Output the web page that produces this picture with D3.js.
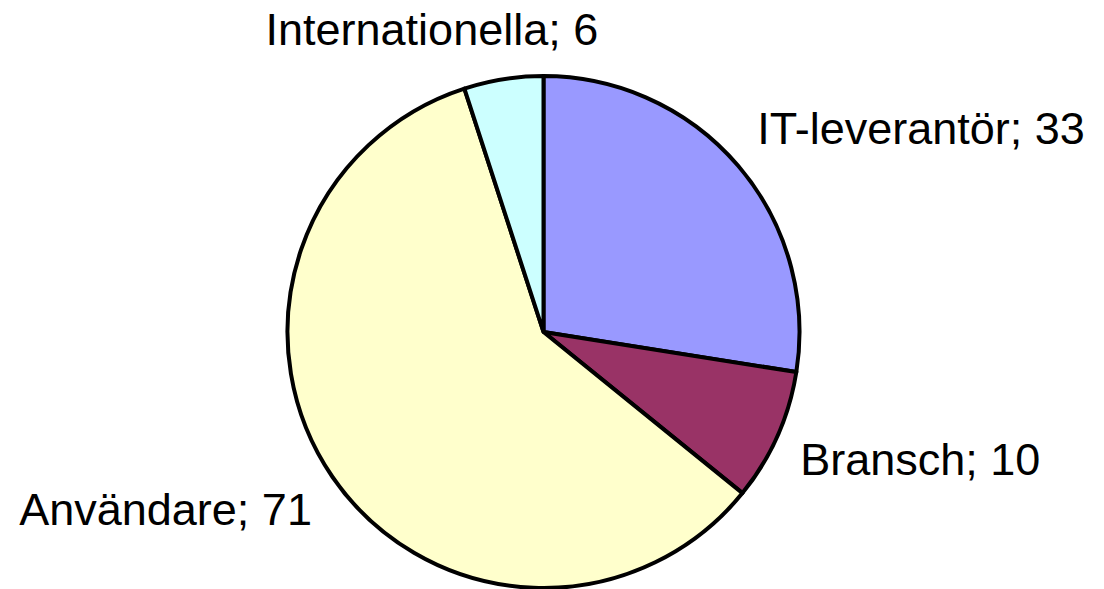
<!DOCTYPE html>
<html><head><meta charset="utf-8">
<script src="https://cdn.jsdelivr.net/npm/d3@7"></script>
<style>html,body{margin:0;padding:0;background:#fff;}svg{display:block;}</style>
</head><body>
<svg id="chart" width="1104" height="589"></svg>
<script>
const categories = ["IT-leverantör", "Bransch", "Användare", "Internationella"];
const values = [33, 10, 71, 6];
const colors = ["#9999FF", "#993366", "#FFFFCC", "#CCFFFF"];

const W = 1104, H = 589;
const cx = 543.5, cy = 332, r = 256;
const fontSize = 45;
const svg = d3.select("#chart");
const g = svg.append("g").attr("transform", `translate(${cx},${cy})`);

const data = categories.map((c, i) => ({ name: c, value: values[i], color: colors[i] }));
const pie = d3.pie().value(d => d.value).sort(null);
const arc = d3.arc().innerRadius(0).outerRadius(r);
const arcs = pie(data);

g.selectAll("path").data(arcs).join("path")
  .attr("d", arc)
  .attr("fill", d => d.data.color)
  .attr("stroke", "#000")
  .attr("stroke-width", 4)
  .attr("stroke-linejoin", "round");

const labelR = r + 25;
arcs.forEach(a => {
  const mid = (a.startAngle + a.endAngle) / 2;
  const sx = Math.sin(mid), cyv = Math.cos(mid);
  const ax = labelR * sx, ay = -labelR * cyv;
  const t = g.append("text")
    .attr("font-family", "'Liberation Sans', Arial, sans-serif")
    .attr("font-size", fontSize)
    .attr("fill", "#000")
    .text(`${a.data.name}; ${a.data.value}`);
  const w = t.node().getComputedTextLength();
  const hfrac = Math.max(0, Math.min(1, 0.5 - sx * 1.3));
  const ascent = 0.905 * fontSize, descent = 0.212 * fontSize;
  const h = ascent + descent;
  const vfrac = Math.max(0, Math.min(1, 0.5 + cyv * 0.65));
  const x = ax - hfrac * w;
  const top = ay - vfrac * h;
  t.attr("x", x).attr("y", top + ascent);
});
</script>
</body></html>
